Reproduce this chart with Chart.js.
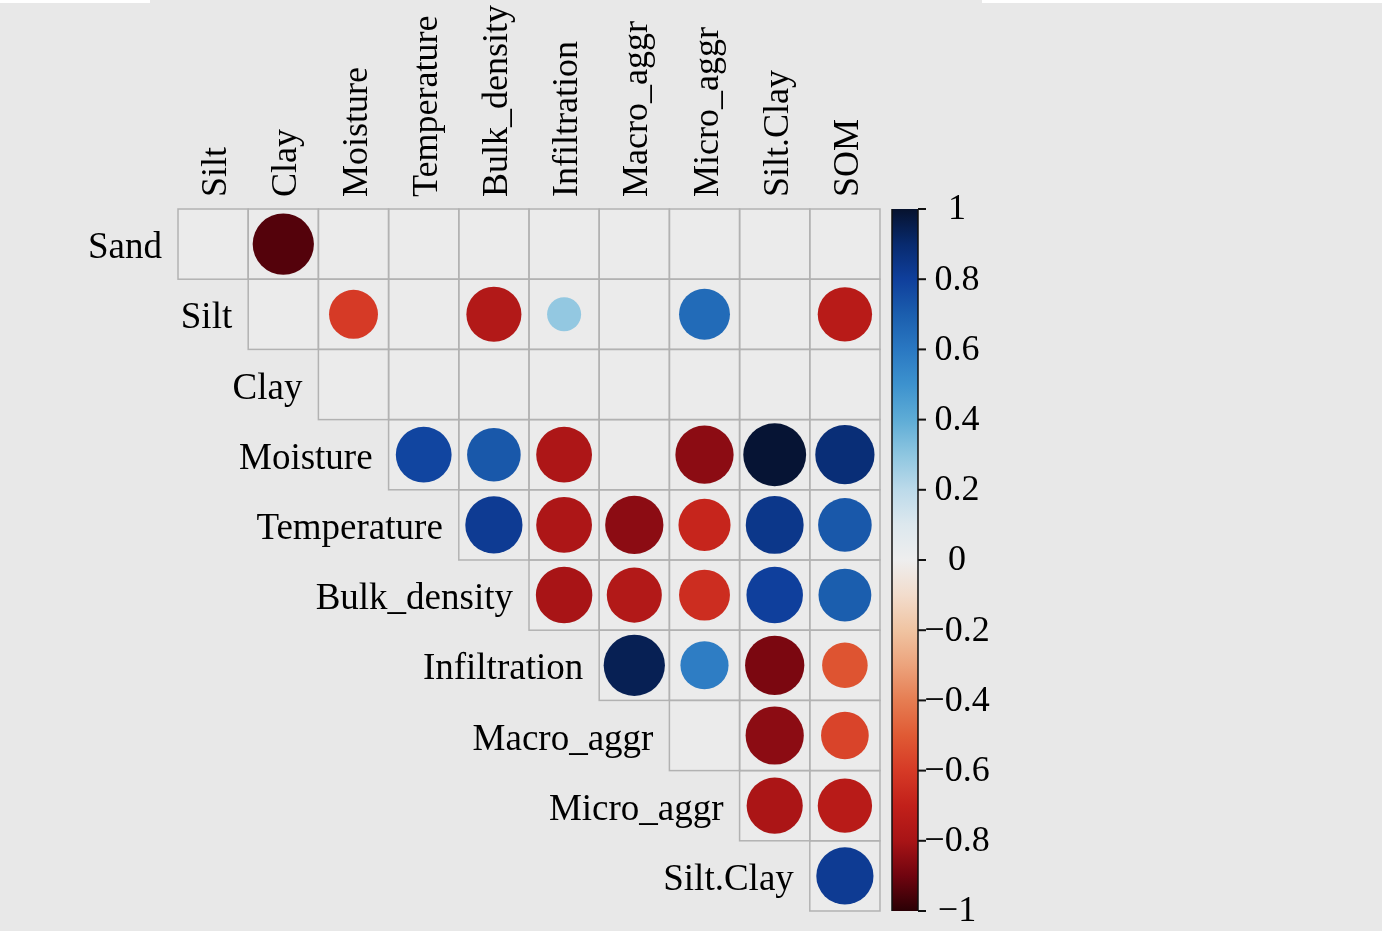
<!DOCTYPE html>
<html>
<head>
<meta charset="utf-8">
<title>Correlation matrix</title>
<script src="https://cdn.jsdelivr.net/npm/chart.js@4.4.1/dist/chart.umd.min.js"></script>
<style>
  html, body { margin: 0; padding: 0; background: #e8e8e8; overflow: hidden; }
  #wrap { position: relative; width: 1382px; height: 931px; }
  .strip { position: absolute; top: 0; height: 3px; background: #fff; }
</style>
</head>
<body>
<div id="wrap">
  <canvas id="corrChart" width="1382" height="931"></canvas>
  <div class="strip" style="left:0;width:150px"></div>
  <div class="strip" style="left:982px;width:400px"></div>
</div>
<script>
// Variables (rows and columns of the upper triangle)
const rowVars = ["Sand", "Silt", "Clay", "Moisture", "Temperature", "Bulk_density",
  "Infiltration", "Macro_aggr", "Micro_aggr", "Silt.Clay"];
const colVars = ["Silt", "Clay", "Moisture", "Temperature", "Bulk_density",
  "Infiltration", "Macro_aggr", "Micro_aggr", "Silt.Clay", "SOM"];

// Correlations, one array per row, aligned to colVars.
// null = blank cell (below the diagonal or not significant)
const sandRow        = [null, -0.94, null, null, null, null, null, null, null, null];
const siltRow        = [null, null, -0.60, null, -0.76, 0.29, null, 0.65, null, -0.74];
const clayRow        = [null, null, null, null, null, null, null, null, null, null];
const moistureRow    = [null, null, null, 0.78, 0.72, -0.78, null, -0.85, 0.99, 0.88];
const temperatureRow = [null, null, null, null, 0.82, -0.78, -0.85, -0.68, 0.84, 0.72];
const bulkRow        = [null, null, null, null, null, -0.80, -0.76, -0.65, 0.80, 0.70];
const infiltRow      = [null, null, null, null, null, null, 0.94, 0.58, -0.88, -0.52];
const macroRow       = [null, null, null, null, null, null, null, null, -0.85, -0.57];
const microRow       = [null, null, null, null, null, null, null, null, -0.79, -0.74];
const siltClayRow    = [null, null, null, null, null, null, null, null, null, 0.82];

const corrRows = [sandRow, siltRow, clayRow, moistureRow, temperatureRow, bulkRow,
  infiltRow, macroRow, microRow, siltClayRow];

// Colour bar ticks
const cbTicks = [1, 0.8, 0.6, 0.4, 0.2, 0, -0.2, -0.4, -0.6, -0.8, -1];

// Diverging palette (value -> colour)
const palette = [
  [-1.0, "#2a0005"], [-0.9, "#70040f"], [-0.8, "#a81416"], [-0.7, "#c2201a"],
  [-0.6, "#d63a26"], [-0.5, "#e05a34"], [-0.4, "#e67d52"], [-0.3, "#eca37c"],
  [-0.2, "#f0c4a2"], [-0.1, "#f2dccc"], [0.0, "#eeeeee"], [0.1, "#dde8ee"],
  [0.2, "#bcdaea"], [0.3, "#8ec6e0"], [0.4, "#5eacd6"], [0.5, "#3d92ce"],
  [0.6, "#2a78c2"], [0.7, "#1b5eae"], [0.8, "#0f3f9c"], [0.9, "#082a6e"],
  [1.0, "#06122e"]
];

function hexToRgb(h) {
  return [parseInt(h.slice(1, 3), 16), parseInt(h.slice(3, 5), 16), parseInt(h.slice(5, 7), 16)];
}

function colorFor(v) {
  if (v === undefined || v === null) return "rgba(0,0,0,0)";
  for (let k = 0; k < palette.length - 1; k++) {
    const [v0, c0] = palette[k];
    const [v1, c1] = palette[k + 1];
    if (v >= v0 && v <= v1) {
      const t = (v - v0) / (v1 - v0);
      const a = hexToRgb(c0), b = hexToRgb(c1);
      const rgb = a.map((ch, n) => Math.round(ch + (b[n] - ch) * t));
      return "rgb(" + rgb.join(",") + ")";
    }
  }
  return palette[palette.length - 1][1];
}

// Points for every significant cell of the upper triangle
const points = [];
corrRows.forEach((row, i) => {
  row.forEach((v, j) => {
    if (j >= i && v !== null) points.push({ x: j, y: i, v: v });
  });
});

const serif = "'Liberation Serif', 'Times New Roman', serif";

// Grid cells, labels and colour bar
const corrPlugin = {
  id: "corrPlugin",
  beforeDatasetsDraw(chart) {
    const { ctx, scales: { x, y } } = chart;
    ctx.save();
    // cell backgrounds + borders (staircase upper triangle)
    for (let i = 0; i < rowVars.length; i++) {
      for (let j = i; j < colVars.length; j++) {
        const x0 = x.getPixelForValue(j - 0.5), x1 = x.getPixelForValue(j + 0.5);
        const y0 = y.getPixelForValue(i - 0.5), y1 = y.getPixelForValue(i + 0.5);
        ctx.fillStyle = "#ebebeb";
        ctx.fillRect(x0, y0, x1 - x0, y1 - y0);
      }
    }
    ctx.strokeStyle = "#b2b2b2";
    ctx.lineWidth = 1.5;
    for (let i = 0; i < rowVars.length; i++) {
      for (let j = i; j < colVars.length; j++) {
        const x0 = x.getPixelForValue(j - 0.5), x1 = x.getPixelForValue(j + 0.5);
        const y0 = y.getPixelForValue(i - 0.5), y1 = y.getPixelForValue(i + 0.5);
        ctx.strokeRect(x0, y0, x1 - x0, y1 - y0);
      }
    }

    ctx.fillStyle = "#000";
    ctx.font = "37px " + serif;
    // row labels, left of each row's first cell
    ctx.textAlign = "right";
    ctx.textBaseline = "alphabetic";
    rowVars.forEach((name, i) => {
      ctx.fillText(name, x.getPixelForValue(i - 0.5) - 16, y.getPixelForValue(i) + 14);
    });
    // column labels, rotated above the grid
    ctx.font = "36px " + serif;
    const topY = y.getPixelForValue(-0.5);
    colVars.forEach((name, j) => {
      ctx.save();
      ctx.translate(x.getPixelForValue(j) + 13, topY - 12);
      ctx.rotate(-Math.PI / 2);
      ctx.textAlign = "left";
      ctx.fillText(name, 0, 0);
      ctx.restore();
    });
    ctx.restore();
  },
  afterDraw(chart) {
    const { ctx, scales: { x, cb } } = chart;
    const left = x.right + 12, width = 26;
    const top = cb.getPixelForValue(1), bottom = cb.getPixelForValue(-1);
    ctx.save();
    const grad = ctx.createLinearGradient(0, top, 0, bottom);
    palette.forEach(([v, c]) => grad.addColorStop((1 - v) / 2, c));
    ctx.fillStyle = grad;
    ctx.fillRect(left, top, width, bottom - top);

    ctx.strokeStyle = "#111";
    ctx.lineWidth = 1.5;
    ctx.beginPath();
    ctx.moveTo(left, top); ctx.lineTo(left, bottom);
    ctx.moveTo(left + width, top); ctx.lineTo(left + width, bottom);
    ctx.stroke();

    ctx.lineWidth = 2;
    ctx.fillStyle = "#000";
    ctx.font = "36px " + serif;
    ctx.textAlign = "center";
    ctx.textBaseline = "middle";
    cbTicks.forEach((v) => {
      const py = cb.getPixelForValue(v);
      ctx.beginPath();
      ctx.moveTo(left + width, py);
      ctx.lineTo(left + width + 8, py);
      ctx.stroke();
      const label = v < 0 ? "\u2212" + Math.abs(v) : String(v);
      ctx.fillText(label, left + width + 39, py + 1);
    });
    ctx.restore();
  }
};

const corrEl = document.getElementById("corrChart");
if (corrEl) {
  const corrCtx = corrEl.getContext("2d");
  new Chart(corrCtx, {
    type: "scatter",
    data: {
      datasets: [
        {
          data: points,
          backgroundColor: (c) => colorFor(c.raw ? c.raw.v : null),
          pointBorderWidth: 0,
          pointRadius: (c) => {
            if (!c.raw) return 0;
            const s = c.chart.scales.x;
            const cell = s.getPixelForValue(1) - s.getPixelForValue(0);
            return 0.45 * cell * Math.sqrt(Math.abs(c.raw.v));
          },
        },
      ],
    },
    options: {
      responsive: false,
      devicePixelRatio: 1,
      animation: false,
      events: [],
      layout: { padding: { left: 178, right: 502, top: 209, bottom: 20 } },
      plugins: {
        legend: { display: false },
        tooltip: { enabled: false },
      },
      scales: {
        x: { type: "linear", min: -0.5, max: 9.5, display: false },
        y: { type: "linear", min: -0.5, max: 9.5, reverse: true, display: false },
        cb: { type: "linear", axis: "y", position: "right", min: -1, max: 1, display: false },
      },
    },
    plugins: [corrPlugin],
  });
}
</script>
</body>
</html>
